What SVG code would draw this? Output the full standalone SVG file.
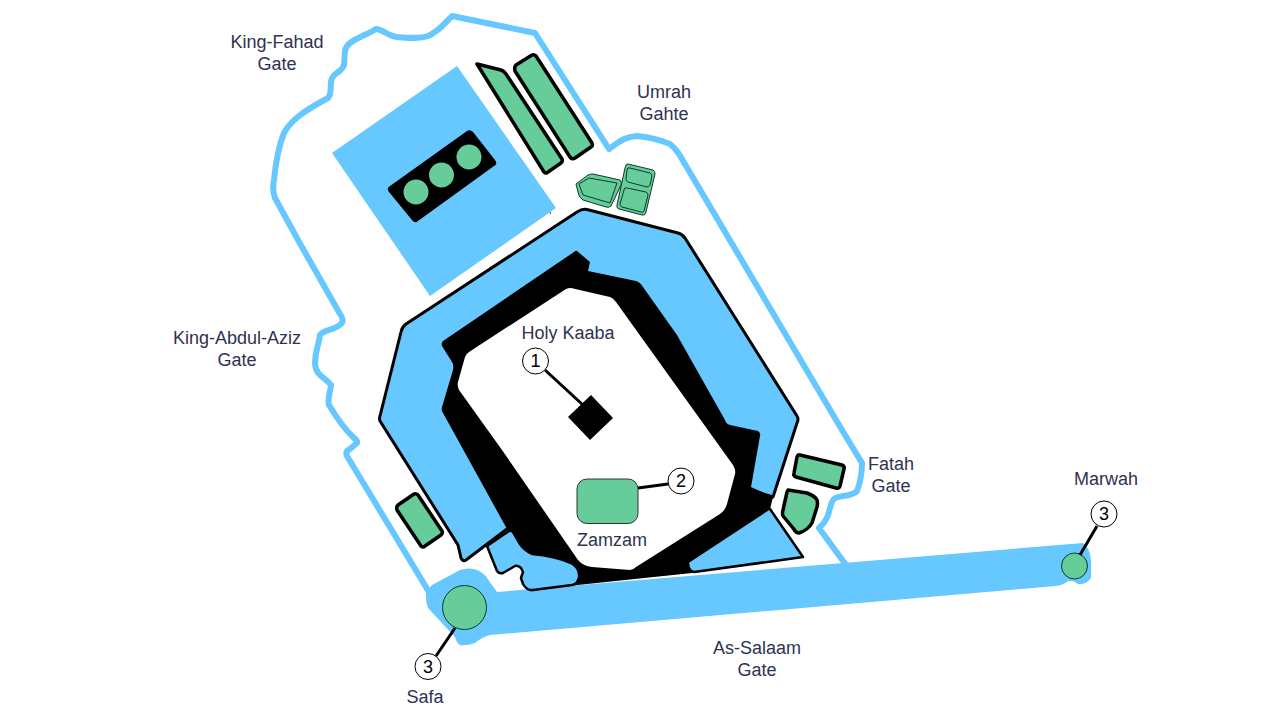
<svg xmlns="http://www.w3.org/2000/svg" width="1280" height="720" viewBox="0 0 1280 720">
<style>
.b{fill:#66c8ff}
.g{fill:#66cc99}
.k{stroke:#000;stroke-linejoin:round}
.th{stroke:#0b3b2a;stroke-width:1;stroke-linejoin:round}
.inner{fill:none;stroke:#0b3b2a;stroke-width:1;stroke-linejoin:round}
.lead{stroke:#000;stroke-width:3;fill:none}
.c{fill:#fff;stroke:#000;stroke-width:1}
text{font-family:"Liberation Sans",Arial,sans-serif;font-size:18px;fill:#2e3350;text-anchor:middle}
.n{fill:#000;font-size:18px}
</style>
<rect width="1280" height="720" fill="#fff"/>
<g id="wall">
<path d="M429 592L347 456Q345 451 350 449L357 443Q358 441 354 438C343 428 335 415 329 405C327 398 331 390 331 385C326 378 316 376 315 364C315 350 319 345 320 335C324 329 335 331 342 323Q344 319 340 314L298 240L275 198Q272 190 274 180C276 160 279 145 284 133C290 122 300 113 328 98C333 92 329 85 332 78C335 72 342 72 344 65C345 57 343 48 350 43C358 37 368 34 376 29C382 29 388 36 397 37C410 38 420 39 428 36C438 32 444 24 452 16L535 33L609 149C618 143 623 137 637 136C650 137 660 140 670 144Q675 148 679 154L842 430L862 463Q862 478 857 491C852 497 838 495 834 499C828 505 832 517 819 528L846 565" fill="none" stroke="#66c8ff" stroke-width="6" stroke-linejoin="round"/>
</g>
<g id="plaza">
<path class="b" d="M497 592L1083 543Q1090 548 1091 560L1091 578Q1086 585 1078 584Q1073 580 1068 581Q1064 585 1056 586L490 635Q482 637 475 643Q466 646 460 645Q456 642 455 637L428 608Q425 600 426 592L432 585L460 570Q470 567 477 570Q484 573 487 578Z"/>
<circle class="g th" cx="464.500" cy="607.500" r="22"/>
<circle class="g th" cx="1074.500" cy="566" r="13"/>
</g>
<g id="annex">
<polygon class="b" points="457,66 556,208 430,296 332,153"/>
<path d="M467 131Q470 129 473 132L495 160Q498 164 494 166L418 221Q415 224 412 220L389 192Q386 188 390 186Z"/>
<circle class="g" cx="416" cy="192" r="12.500"/>
<circle class="g" cx="441.500" cy="175" r="12.500"/>
<circle class="g" cx="469" cy="157" r="12.500"/>
</g>
<g id="strips">
<path class="g k" stroke-width="3.500" d="M477 64L501 70Q504 71 506 74L562 159Q563 161 561 163L548 172Q546 174 544 172Z"/>
<path class="g k" stroke-width="3.500" d="M516 65L532 55Q534 54 536 56L592 143Q593 146 591 147L575 158Q572 160 570 157L515 71Q514 67 516 65Z"/>
</g>
<g id="umrah-blocks">
<path class="g th" d="M576 184L588 175Q590 174 593 174L620 180Q622 182 621 185L611 206Q609 208 606 207L583 200Q579 198 578 192Z"/>
<path class="inner" d="M579 184L589 178L617 183L610 203L583 195Z"/>
<path class="g th" d="M628 164L653 170Q655 171 655 174L646 212Q645 216 642 215L619 209Q616 208 617 205L625 168Q626 163 628 164Z"/>
<path class="inner" d="M630 168L650 173Q652 174 652 176L650 185Q649 187 647 187L628 182Q626 181 626 179L627 170Q627 167 630 168Z"/>
<path class="inner" d="M627 188L646 192Q648 193 648 195L644 211Q643 213 641 212L622 207Q620 206 620 204L624 190Q624 187 627 188Z"/>
</g>
<g id="haram">
<path class="b k" stroke-width="3" d="M577 212Q583 208 589 210L678 233Q682 234 685 238L797 416Q799 419 797 423L773 497L751 490L507 529L466 560Q463 562 461 558L458 545L380 421Q379 418 380 416L401 332Q402 327 406 324Z"/>
<path d="M577 251L590 262L588 271L636 281Q640 282 643 287L677 335L725 420Q726 424 730 425L758 431Q761 433 760 436L751 487L773 497L770 509L800 558L692 573L530 590L507 529L443 413Q441 410 442 407L453 370Q454 365 452 362L442 346Q441 343 443 341L574 252Q576 250 577 251Z"/>
<path d="M566 289Q568 288 571 288L610 297Q613 298 616 302L733 465Q736 470 735 474L727 504Q725 511 720 514L636 567Q633 570 630 570L592 567Q583 566 578 560L502 450L459 390Q457 386 458 382L465 357Q466 354 469 352Z" fill="#fff"/>
<path class="b k" stroke-width="2.500" d="M770 509L803 557L694 572Q688 571 688 562L767 510Q769 508 770 509Z"/>
<path class="b k" stroke-width="2.500" d="M509 531L487 546L497 571Q499 574 503 573L515 566Q518 565 521 568L523 572L521 578L523 584Q527 591 533 590L572 585Q578 584 579 577Q580 568 571 563Q555 556 532 554Q524 550 520 544L513 532Q511 530 509 531Z"/>
<circle cx="550.500" cy="213" r="0.700"/>
</g>
<g id="fatah-blocks">
<path class="g k" stroke-width="3.500" d="M800 455L842 465Q845 466 844 469L840 486Q839 489 836 488L796 477Q793 476 794 473L797 457Q798 454 800 455Z"/>
<path class="g k" stroke-width="3.500" d="M788 490L807 493Q815 496 817 500Q818 503 817 507L812 523Q808 530 799 533Q796 533 793 528L783 516Q782 513 783 510L787 492Z"/>
</g>
<g id="bottom-left-block">
<path class="g k" stroke-width="3.500" d="M414 494Q416 493 418 495L442 531Q443 533 441 535L425 546Q423 548 421 546L397 510Q396 507 398 505Z"/>
</g>
<g id="zamzam">
<rect class="g" x="577" y="479" width="61" height="44.500" rx="10" stroke="#333" stroke-width="1"/>
</g>
<g id="kaaba">
<polygon points="591,395 613,418 590,440 568,417"/>
</g>
<g id="connectors">
<path class="lead" d="M545 370L583 405"/>
<path class="lead" d="M638 488L668 484"/>
<path class="lead" d="M455 628L436 656"/>
<path class="lead" d="M1080 555L1097 526"/>
</g>
<g id="callout-1"><circle class="c" cx="535.500" cy="361" r="13"/><text class="n" x="535.500" y="367">1</text></g>
<g id="callout-2"><circle class="c" cx="681" cy="481" r="13"/><text class="n" x="681" y="487">2</text></g>
<g id="callout-3a"><circle class="c" cx="428" cy="666.500" r="13"/><text class="n" x="428" y="672.500">3</text></g>
<g id="callout-3b"><circle class="c" cx="1104" cy="514" r="13"/><text class="n" x="1104" y="520">3</text></g>
<g id="labels">
<text x="277" y="48">King-Fahad</text><text x="277" y="70">Gate</text>
<text x="664" y="98">Umrah</text><text x="664" y="120">Gahte</text>
<text x="237" y="344">King-Abdul-Aziz</text><text x="237" y="366">Gate</text>
<text x="568" y="339">Holy Kaaba</text>
<text x="891" y="470">Fatah</text><text x="891" y="492">Gate</text>
<text x="1106" y="485">Marwah</text>
<text x="612" y="546">Zamzam</text>
<text x="757" y="654">As-Salaam</text><text x="757" y="676">Gate</text>
<text x="425" y="703">Safa</text>
</g>
</svg>
